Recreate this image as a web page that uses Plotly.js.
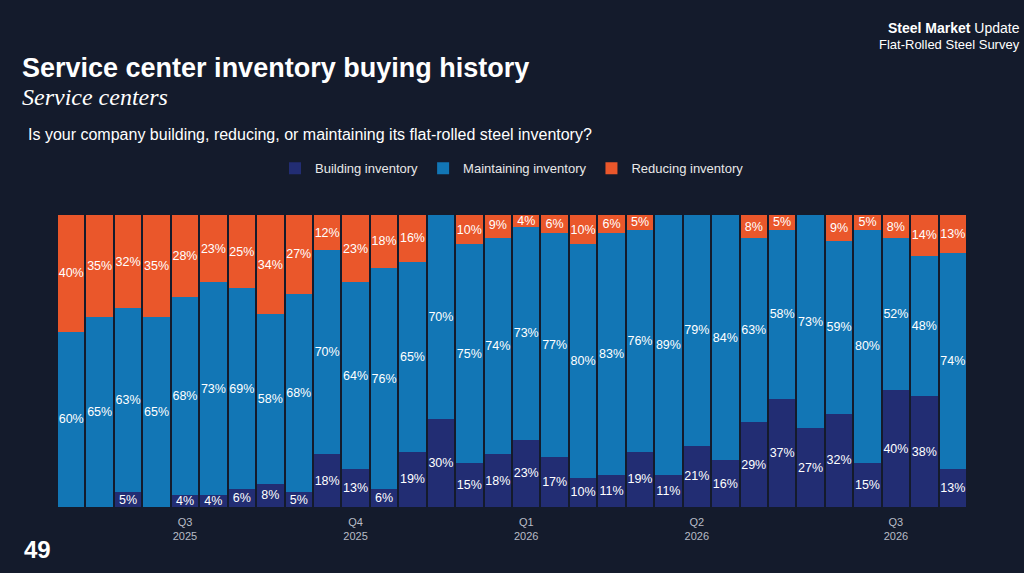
<!DOCTYPE html>
<html><head><meta charset="utf-8">
<script src="https://cdn.plot.ly/plotly-3.0.1.min.js"></script>
<style>html,body{margin:0;padding:0;background:#141b2c;}#c{width:1024px;height:573px;}</style>
</head><body><div id="c"></div>
<script>
const building    = [0,0,5,0,4,4,6,8,5,18,13,6,19,30,15,18,23,17,10,11,19,11,21,16,29,37,27,32,15,40,38,13];
const maintaining = [60,65,63,65,68,73,69,58,68,70,64,76,65,70,75,74,73,77,80,83,76,89,79,84,63,58,73,59,80,52,48,74];
const reducing    = [40,35,32,35,28,23,25,34,27,12,23,18,16,0,10,9,4,6,10,6,5,0,0,0,8,5,0,9,5,8,14,13];
const tickIdx = [4,10,16,22,29];
const tickLabels = ['Q3<br>2025','Q4<br>2025','Q1<br>2026','Q2<br>2026','Q3<br>2026'];
const x = building.map((_,i)=>i);
const lbl = a => a.map(v => v ? v+'%' : '');
function tr(name, y, color){
  return {type:'bar', name, x, y, marker:{color, line:{width:0}}, text:lbl(y),
    textposition:'inside', insidetextanchor:'middle', constraintext:'none', textangle:0,
    textfont:{color:'#ffffff', size:12.5, family:'Liberation Sans, Arial'}, hoverinfo:'skip'};
}
const data = [tr('Building inventory',building,'#222d73'), tr('Maintaining inventory',maintaining,'#1276b5'), tr('Reducing inventory',reducing,'#ea572b')];
const layout = {
  width:1024, height:573, barmode:'stack', bargap:0.07,
  paper_bgcolor:'#141b2c', plot_bgcolor:'rgba(0,0,0,0)',
  margin:{l:57, r:57, t:215, b:66},
  uniformtext:{mode:'show', minsize:12.5},
  font:{family:'Liberation Sans, Arial', color:'#ffffff'},
  showlegend:true,
  legend:{orientation:'h', x:0.5, xanchor:'center', y:1.16, yanchor:'middle', font:{size:13, color:'#e8e8e8'}, traceorder:'normal', itemwidth:30},
  xaxis:{tickmode:'array', tickvals:tickIdx, ticktext:tickLabels, showgrid:false, zeroline:false, showline:false, ticks:'', ticklabelstandoff:7, tickfont:{size:11, color:'#b8bcc6'}, range:[-0.5,31.5]},
  yaxis:{range:[0,100], showgrid:false, zeroline:false, showticklabels:false, ticks:''},
  annotations:[
    {xref:'paper', yref:'paper', x:-0.041, y:1.504, xanchor:'left', yanchor:'middle', showarrow:false, text:'<b>Service center inventory buying history</b>', font:{size:27, color:'#fff', family:'Liberation Sans, Arial'}},
    {xref:'paper', yref:'paper', x:-0.041, y:1.404, xanchor:'left', yanchor:'middle', showarrow:false, text:'<i>Service centers</i>', font:{size:24, color:'#fff', family:'Liberation Serif, Times New Roman'}},
    {xref:'paper', yref:'paper', x:-0.034, y:1.274, xanchor:'left', yanchor:'middle', showarrow:false, text:'Is your company building, reducing, or maintaining its flat-rolled steel inventory?', font:{size:16, color:'#fff'}},
    {xref:'paper', yref:'paper', x:-0.038, y:-0.145, xanchor:'left', yanchor:'middle', showarrow:false, text:'<b>49</b>', font:{size:24, color:'#fff'}},
    {xref:'paper', yref:'paper', x:1.06, y:1.64, xanchor:'right', yanchor:'middle', showarrow:false, text:'<b>Steel Market</b> Update', font:{size:14, color:'#fff'}},
    {xref:'paper', yref:'paper', x:1.06, y:1.585, xanchor:'right', yanchor:'middle', showarrow:false, text:'Flat-Rolled Steel Survey', font:{size:13, color:'#fff'}}
  ]
};
Plotly.newPlot('c', data, layout, {staticPlot:true, displayModeBar:false});
</script></body></html>
